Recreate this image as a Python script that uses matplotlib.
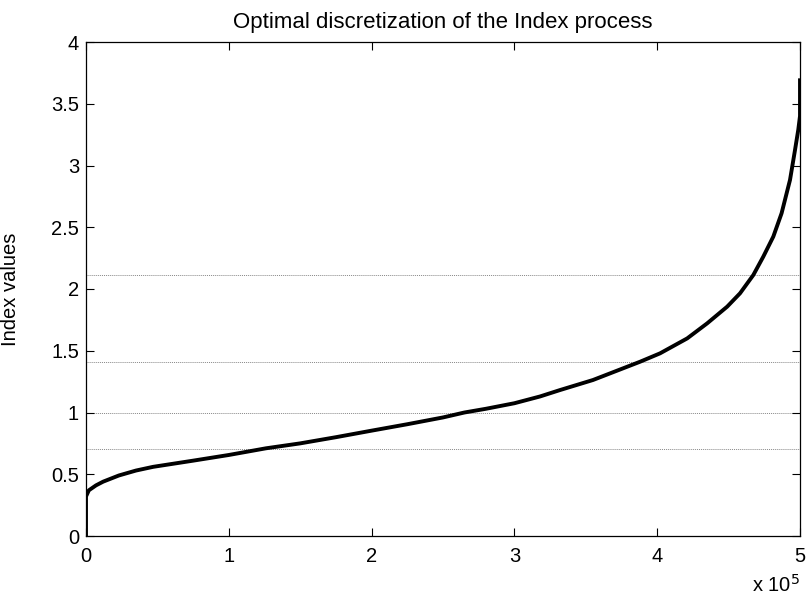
import matplotlib
matplotlib.use('Agg')
import matplotlib.pyplot as plt
from matplotlib.ticker import FuncFormatter

plt.rcParams.update({
    'font.family': 'sans-serif',
    'font.sans-serif': ['Liberation Sans', 'Arial', 'DejaVu Sans'],
    'font.size': 14.5,
})

obs = [0, 0, 0.02e5, 0.07e5, 0.12e5, 0.23e5, 0.35e5, 0.47e5, 0.75e5,
       1.0e5, 1.26e5, 1.5e5, 1.75e5, 2.0e5, 2.25e5, 2.5e5, 2.65e5, 2.8e5,
       3.0e5, 3.18e5, 3.32e5, 3.55e5, 3.88e5, 4.02e5, 4.21e5,
       4.35e5, 4.49e5, 4.58e5, 4.673e5, 4.743e5, 4.813e5,
       4.871e5, 4.93e5, 4.965e5, 4.988e5, 5.0e5, 5.0e5]
index_vals = [0, 0.32, 0.37, 0.41, 0.44, 0.49, 0.53, 0.56, 0.61,
              0.656, 0.71, 0.75, 0.8, 0.853, 0.905, 0.96, 1.0, 1.03,
              1.075, 1.13, 1.182, 1.263, 1.411, 1.479, 1.6,
              1.722, 1.857, 1.965, 2.113, 2.262, 2.424,
              2.613, 2.883, 3.125, 3.29, 3.4, 3.69]

# discretization thresholds
levels = [0.707, 1.0, 1.405, 2.11]

x_ticks = [0, 1e5, 2e5, 3e5, 4e5, 5e5]
y_ticks = [0, 0.5, 1, 1.5, 2, 2.5, 3, 3.5, 4]

fig = plt.figure(figsize=(8.06, 5.98), dpi=100)
ax = fig.add_axes([86 / 806, 62 / 598, 714 / 806, 494 / 598])

for lv in levels:
    ax.axhline(lv, color='#888888', lw=0.7, ls=(0, (1, 1)), zorder=1)

ax.plot(obs, index_vals, color='black', lw=2.8, zorder=3)

ax.set_xlim(0, 5e5)
ax.set_ylim(0, 4)
ax.set_xticks(x_ticks)
ax.set_yticks(y_ticks)
ax.xaxis.set_major_formatter(FuncFormatter(lambda v, p: f'{v / 1e5:g}'))
ax.yaxis.set_major_formatter(FuncFormatter(lambda v, p: f'{v:g}'))
ax.tick_params(direction='in', length=6, width=0.8, top=True, right=True)
ax.tick_params(axis='x', pad=8)
ax.tick_params(axis='y', pad=5)
for s in ax.spines.values():
    s.set_linewidth(0.9)

ax.set_title('Optimal discretization of the Index process', fontsize=16, pad=10)
ax.set_ylabel('Index values')
ax.yaxis.set_label_coords(-0.092, 0.5)

fig.text(800 / 806, 1 - 585 / 598, r'x 10$^5$', ha='right', va='center',
         fontsize=14.5)

fig.savefig('out.png', dpi=100, facecolor='white')
